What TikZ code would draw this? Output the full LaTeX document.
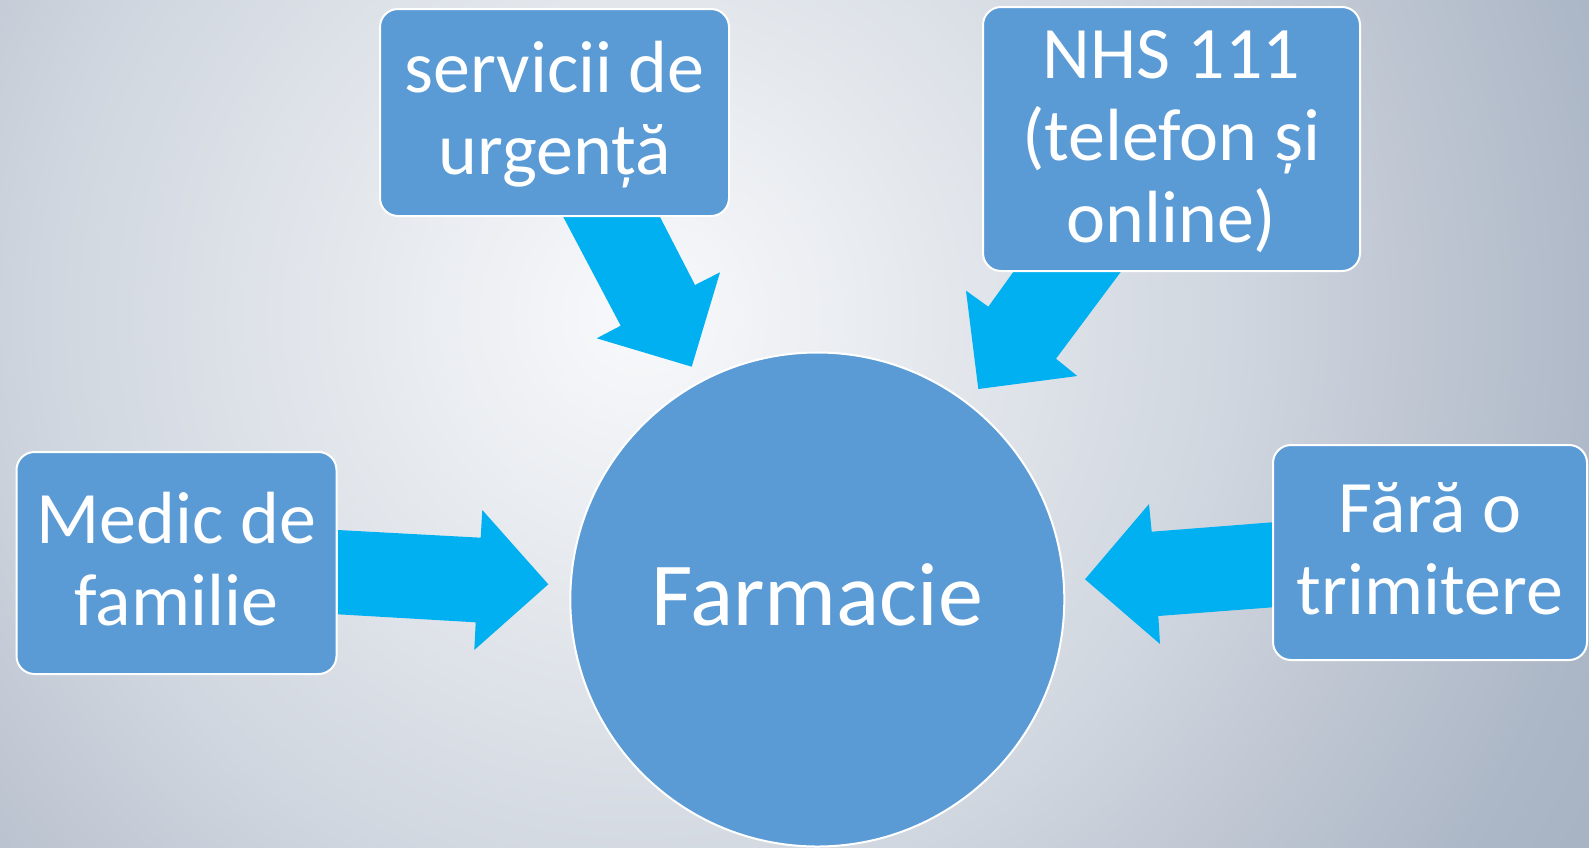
\documentclass[tikz,border=0pt]{standalone}
\usepackage{fontspec}
\setmainfont{Carlito}
\definecolor{boxblue}{HTML}{5B9BD5}
\definecolor{arrowblue}{HTML}{00B0F0}
\definecolor{bgA}{HTML}{F8F9FB}
\definecolor{bgB}{HTML}{E4E8ED}
\definecolor{bgC}{HTML}{D0D6DF}
\definecolor{bgD}{HTML}{BDC5D1}
\definecolor{bgE}{HTML}{ABB6C6}
\definecolor{bgF}{HTML}{A5B1C2}
\pgfdeclareradialshading{bgshade}{\pgfpoint{0bp}{0bp}}{color(0bp)=(bgA); color(6.5bp)=(bgB); color(13bp)=(bgC); color(17.4bp)=(bgD); color(21.7bp)=(bgE); color(25bp)=(bgF); color(50bp)=(bgF)}
\newcommand{\ls}{\rule[-0.25em]{0pt}{1.08em}}
\tikzset{
  box/.style={draw=white, line width=2pt, fill=boxblue, rounded corners=18pt,
    text=white, align=center, inner sep=0pt, font=\fontsize{74}{82}\selectfont},
  hub/.style={circle, draw=white, line width=2pt, fill=boxblue, inner sep=0pt,
    minimum size=494pt, text=white, font=\fontsize{90}{100}\selectfont},
  blockarrow/.style={fill=arrowblue}
}
\begin{document}
\begin{tikzpicture}[x=1pt,y=-1pt]
\useasboundingbox (0,0) rectangle (1589,847);
\begin{scope}
\clip (0,0) rectangle (1589,847);
\shade[shading=bgshade] (640,315) circle[radius=1150pt];
\end{scope}
% block arrows
\fill[blockarrow] (338,530) -- (480.7,537.7) -- (482.3,510) -- (548.3,584.3) -- (474.3,650) -- (475.7,622.3) -- (338,614.3) -- cycle;
\fill[blockarrow] (563.3,217) -- (620.7,325.7) -- (596.7,338.3) -- (691.7,366.7) -- (720,272.3) -- (695,285) -- (660,217) -- cycle;
\fill[blockarrow] (1013.3,272) -- (988.3,306.7) -- (966,290.7) -- (978.3,389) -- (1077.3,376) -- (1056,358.7) -- (1120.7,272) -- cycle;
\fill[blockarrow] (1272.3,522.3) -- (1151.7,531.7) -- (1149,504) -- (1085,579.3) -- (1160,644) -- (1158.3,616) -- (1272.3,607.3) -- cycle;
% nodes
\node[box, minimum width=349pt, minimum height=207pt] (srv) at (554.5,112.5) {\ls servicii de\\\ls urgență};
\node[box, minimum width=377pt, minimum height=264pt] (nhs) at (1171.5,139) {\ls NHS 111\\\ls (telefon și\\\ls online)};
\node[box, minimum width=320pt, minimum height=222pt] (med) at (176.5,563) {\ls Medic de\\\ls familie};
\node[box, minimum width=314pt, minimum height=215pt] (fara) at (1430,552.5) {\ls Fără o\\\ls trimitere};
\node[hub] (farm) at (817.3,599.5) {\ls Farmacie};
\end{tikzpicture}
\end{document}
